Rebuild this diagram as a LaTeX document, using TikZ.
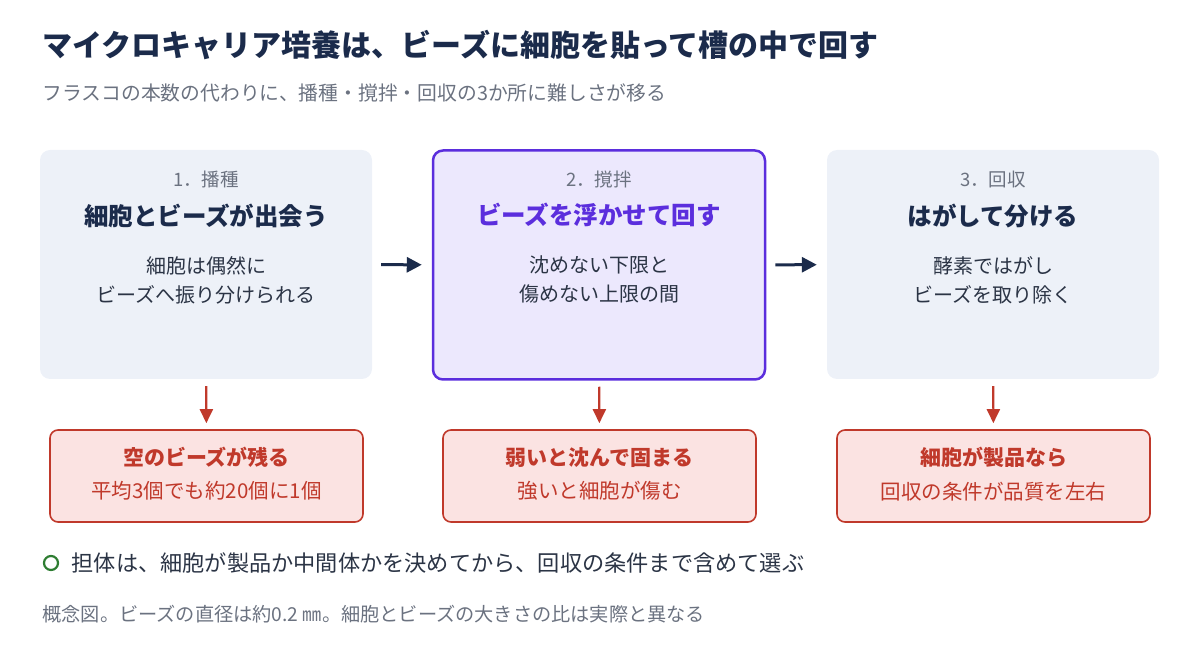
\documentclass[tikz,border=0pt]{standalone}
\usepackage{fontspec}
\setmainfont{Noto Sans CJK JP}
\usetikzlibrary{arrows.meta,positioning,calc}

\definecolor{ink}{HTML}{1B2B4B}
\definecolor{muted}{HTML}{6B7280}
\definecolor{bodyink}{HTML}{2B3445}
\definecolor{boxfill}{HTML}{EDF1F8}
\definecolor{activefill}{HTML}{ECE8FD}
\definecolor{activeline}{HTML}{5B2EDD}
\definecolor{riskred}{HTML}{C0392B}
\definecolor{riskfill}{HTML}{FBE3E2}
\definecolor{okgreen}{HTML}{2E7D32}

\tikzset{
  stepbox/.style={fill=boxfill,rounded corners=10pt,minimum width=332pt,minimum height=229pt,inner sep=0pt},
  activebox/.style={stepbox,fill=activefill,draw=activeline,line width=2.5pt},
  riskbox/.style={draw=riskred,fill=riskfill,line width=1.6pt,rounded corners=8pt,minimum width=313pt,minimum height=92pt,inner sep=0pt},
  stepnum/.style={font=\fontsize{18.5}{20}\selectfont,text=muted},
  stephead/.style={font=\fontsize{24.5}{28}\selectfont\bfseries,text=ink},
  stepbody/.style={font=\fontsize{20}{29}\selectfont,text=bodyink,align=center},
  riskhead/.style={font=\fontsize{21}{24}\selectfont\bfseries,text=riskred},
  risktext/.style={font=\fontsize{20.5}{23}\selectfont,text=riskred},
  flow/.style={draw=ink,line width=3pt,-{Triangle[length=15pt,width=15pt]}},
  riskflow/.style={draw=riskred,line width=2.2pt,-{Triangle[length=14pt,width=13pt]}},
}

\begin{document}
\begin{tikzpicture}[x=1pt,y=-1pt]
\useasboundingbox (0,0) rectangle (1200,652);

% title block
\node[anchor=west,font=\fontsize{30}{33}\selectfont\bfseries,text=ink] (title) at (39,45) {マイクロキャリア培養は、ビーズに細胞を貼って槽の中で回す};
\node[anchor=west,font=\fontsize{19.8}{22}\selectfont,text=muted] (subtitle) at (39,93) {フラスコの本数の代わりに、播種・撹拌・回収の3か所に難しさが移る};

% the three steps
\node[stepbox] (seed) at (206,264.5) {};
\node[activebox] (stir) at (599,265) {};
\node[stepbox] (harvest) at (993,264.5) {};

\node[stepnum] (seednum) at ($(seed.north)+(0,30)$) {1．播種};
\node[stephead] (seedhead) at ($(seed.north)+(0,66)$) {細胞とビーズが出会う};
\node[stepbody] (seedbody) at ($(seed.north)+(0,130.5)$) {細胞は偶然に\\ビーズへ振り分けられる};

\node[stepnum] (stirnum) at ($(stir.north)+(0,30)$) {2．撹拌};
\node[stephead,text=activeline] (stirhead) at ($(stir.north)+(0,66)$) {ビーズを浮かせて回す};
\node[stepbody] (stirbody) at ($(stir.north)+(0,130.5)$) {沈めない下限と\\傷めない上限の間};

\node[stepnum] (harvestnum) at ($(harvest.north)+(0,30)$) {3．回収};
\node[stephead] (harvesthead) at ($(harvest.north)+(0,66)$) {はがして分ける};
\node[stepbody] (harvestbody) at ($(harvest.north)+(0,130.5)$) {酵素ではがし\\ビーズを取り除く};

\draw[flow,shorten <=9pt,shorten >=10pt] (seed) -- (stir);
\draw[flow,shorten <=9pt,shorten >=10pt] (stir) -- (harvest);

% what goes wrong at each step
\node[riskbox] (seedrisk) at (206.5,476) {};
\node[riskbox] (stirrisk) at (599.5,476) {};
\node[riskbox] (harvestrisk) at (993.5,476) {};

\node[riskhead] at ($(seedrisk.north)+(0,28)$) {空のビーズが残る};
\node[risktext] at ($(seedrisk.north)+(0,62)$) {平均3個でも約20個に1個};
\node[riskhead] at ($(stirrisk.north)+(0,28)$) {弱いと沈んで固まる};
\node[risktext] at ($(stirrisk.north)+(0,62)$) {強いと細胞が傷む};
\node[riskhead] at ($(harvestrisk.north)+(0,28)$) {細胞が製品なら};
\node[risktext] at ($(harvestrisk.north)+(0,62)$) {回収の条件が品質を左右};

\draw[riskflow,shorten <=7pt,shorten >=6pt] (seed) -- (seedrisk);
\draw[riskflow,shorten <=6pt,shorten >=6pt] (stir) -- (stirrisk);
\draw[riskflow,shorten <=7pt,shorten >=6pt] (harvest) -- (harvestrisk);

% takeaway and footnote
\node[circle,draw=okgreen,line width=2.2pt,minimum size=14pt,inner sep=0pt] (okmark) at (51,563) {};
\node[anchor=west,font=\fontsize{22.2}{25}\selectfont,text=bodyink,right=9pt of okmark] (takeaway) {担体は、細胞が製品か中間体かを決めてから、回収の条件まで含めて選ぶ};
\node[anchor=west,font=\fontsize{19.2}{22}\selectfont,text=muted] (footnote) at (39,614) {概念図。ビーズの直径は約0.2 ㎜。細胞とビーズの大きさの比は実際と異なる};
\end{tikzpicture}
\end{document}
